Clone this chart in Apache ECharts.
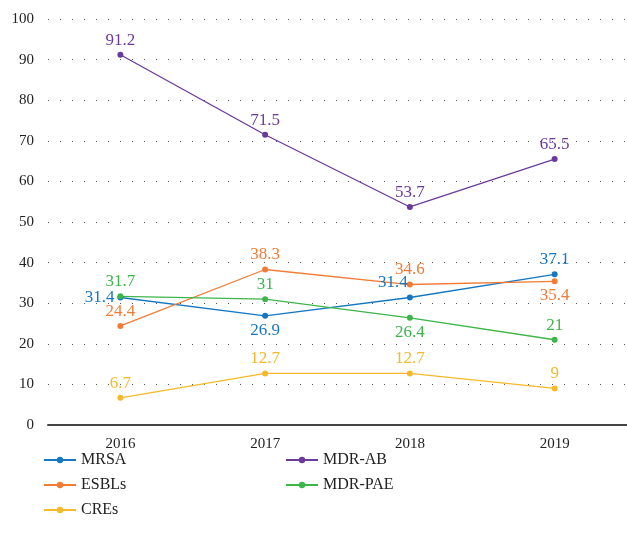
<!DOCTYPE html>
<html>
<head>
<meta charset="utf-8">
<script src="https://cdn.jsdelivr.net/npm/echarts@6/dist/echarts.min.js"></script>
<style>
  html, body { margin: 0; padding: 0; background: #fff; }
  #chart { width: 627px; height: 547px; }
</style>
</head>
<body>
<div id="chart"></div>
<script>
const years = ['2016', '2017', '2018', '2019'];
const mrsa = [31.4, 26.9, 31.4, 37.1];
const esbls = [24.4, 38.3, 34.6, 35.4];
const cres = [6.7, 12.7, 12.7, 9];
const mdrAb = [91.2, 71.5, 53.7, 65.5];
const mdrPae = [31.7, 31, 26.4, 21];

const font = '"Liberation Serif", "DejaVu Serif", serif';

// label placement per point (styling only)
const labelPos = {
  MRSA: ['left', 'bottom', 'top', 'top'],
  ESBLs: ['top', 'top', 'top', 'bottom'],
  CREs: ['top', 'top', 'top', 'top'],
  'MDR-AB': ['top', 'top', 'top', 'top'],
  'MDR-PAE': ['top', 'top', 'bottom', 'top']
};
const labelOffset = {
  MRSA: [[0, 0], [0, 0], [-17, 0], [0, 0]]
};

const makeSeries = (name, values, color) => ({
  name,
  type: 'line',
  symbol: 'circle',
  symbolSize: 6,
  lineStyle: { width: 1.3, color },
  itemStyle: { color },
  label: {
    show: true,
    color,
    fontFamily: font,
    fontSize: 17,
    distance: 3
  },
  data: values.map((v, i) => {
    const label = { position: labelPos[name][i] };
    if (labelOffset[name]) label.offset = labelOffset[name][i];
    return { value: v, label };
  })
});

const chart = echarts.init(document.getElementById('chart'));
chart.setOption({
  animation: false,
  textStyle: { fontFamily: font },
  grid: { left: 48, top: 19, width: 581, height: 406 },
  legend: [
    {
      data: ['MRSA', 'ESBLs', 'CREs'],
      orient: 'vertical',
      left: 38,
      top: 447,
      itemWidth: 32,
      itemHeight: 8,
      itemGap: 9,
      textStyle: { fontFamily: font, fontSize: 16, color: '#222' }
    },
    {
      data: ['MDR-AB', 'MDR-PAE'],
      orient: 'vertical',
      left: 280,
      top: 447,
      itemWidth: 32,
      itemHeight: 8,
      itemGap: 9,
      textStyle: { fontFamily: font, fontSize: 16, color: '#222' }
    }
  ],
  xAxis: {
    type: 'category',
    data: years,
    boundaryGap: true,
    axisLine: { lineStyle: { color: '#444', width: 2 } },
    axisTick: { show: false },
    axisLabel: { color: '#222', fontSize: 15, fontFamily: font, margin: 12 }
  },
  yAxis: {
    type: 'value',
    min: 0,
    max: 100,
    interval: 10,
    axisLine: { show: false },
    axisTick: { show: false },
    axisLabel: { color: '#222', fontSize: 15, fontFamily: font, margin: 14 },
    splitLine: { lineStyle: { color: '#555', width: 1.2, type: [1, 11] } }
  },
  series: [
    makeSeries('MRSA', mrsa, '#1577c1'),
    makeSeries('ESBLs', esbls, '#f27b36'),
    makeSeries('CREs', cres, '#f6b929'),
    makeSeries('MDR-AB', mdrAb, '#6a3a9c'),
    makeSeries('MDR-PAE', mdrPae, '#3db54a')
  ]
});
</script>
</body>
</html>
